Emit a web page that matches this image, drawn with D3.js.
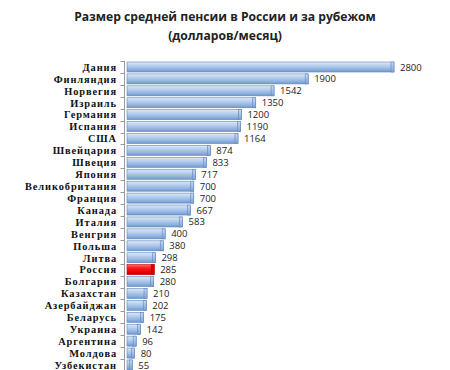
<!DOCTYPE html>
<html><head><meta charset="utf-8">
<script src="https://cdn.jsdelivr.net/npm/d3@7/dist/d3.min.js"></script>
<style>body{margin:0;background:#fff}svg{display:block}</style>
</head><body>
<svg id="c" width="450" height="370"></svg>
<script>
const categories = ["Дания","Финляндия","Норвегия","Израиль","Германия","Испания","США","Швейцария","Швеция","Япония","Великобритания","Франция","Канада","Италия","Венгрия","Польша","Литва","Россия","Болгария","Казахстан","Азербайджан","Беларусь","Украина","Аргентина","Молдова","Узбекистан"];
const values = [2800,1900,1542,1350,1200,1190,1164,874,833,717,700,700,667,583,400,380,298,285,280,210,202,175,142,96,80,55];
const highlight = ["Россия"];
const titleLines = ["Размер средней пенсии в России и за рубежом","(долларов/месяц)"];

const svg = d3.select("#c");
const step = 11.92, top0 = 67 - step/2;
const y = d3.scaleBand().domain(categories).range([top0, top0 + step*categories.length]).paddingInner(0.16).paddingOuter(0.08);
const x = d3.scaleLinear().domain([0, 2800]).range([127, 394]);

const defs = svg.append("defs");
function grad(id, stops){
  const g = defs.append("linearGradient").attr("id", id).attr("x1",0).attr("y1",0).attr("x2",0).attr("y2",1);
  stops.forEach(([o,c])=>g.append("stop").attr("offset",o).attr("stop-color",c));
}
grad("gb", [[0,"#dce8f6"],[0.35,"#b9d0ee"],[0.75,"#8eb2e0"],[1,"#6f97cc"]]);
grad("gr", [[0,"#ff6a6a"],[0.35,"#ff1a1a"],[0.8,"#e00000"],[1,"#b00000"]]);
grad("gc", [[0,"#c8daf2"],[1,"#7fa3d4"]]);

// title
const tsel = svg.selectAll("text.title").data(titleLines).join("text")
  .attr("class","title").attr("x",225).attr("y",(d,i)=>21+i*18.5)
  .attr("text-anchor","middle").attr("font-family","'Open Sans', 'Liberation Sans', sans-serif")
  .attr("font-weight","bold").attr("font-size",12).attr("fill","#222").text(d=>d);
const tw = tsel.node().getComputedTextLength();
tsel.attr("font-size", 12*302/tw);

// axis
const yAxis = d3.axisLeft(y).tickSize(0).tickFormat("");
const ax = svg.append("g").attr("transform","translate(124.5,0)").call(yAxis);
ax.select(".domain").attr("stroke","#999").attr("d",`M0,${top0}V370`);
const bounds = d3.range(categories.length+1).map(i=>top0+i*step);
ax.selectAll("line.tk").data(bounds).join("line").attr("class","tk")
  .attr("x1",-4).attr("x2",0).attr("y1",d=>Math.round(d)+0.5).attr("y2",d=>Math.round(d)+0.5).attr("stroke","#999");

// bars
const bh = y.bandwidth();
const g = svg.append("g");
g.selectAll("rect.bar").data(categories).join("rect").attr("class","bar")
  .attr("x", x(0)).attr("y", d=>y(d)).attr("width", (d,i)=>x(values[i])-x(0)).attr("height", bh)
  .attr("fill", d=>highlight.includes(d)?"url(#gr)":"url(#gb)")
  .attr("stroke", d=>highlight.includes(d)?"#c00000":"#5f87bd").attr("stroke-width",0.6);
// end caps
g.selectAll("rect.cap").data(categories).join("rect").attr("class","cap")
  .attr("x", (d,i)=>x(values[i])-3).attr("y", d=>y(d)).attr("width",3).attr("height", bh)
  .attr("fill", d=>highlight.includes(d)?"#d80000":"url(#gc)")
  .attr("stroke", d=>highlight.includes(d)?"#c00000":"#5f87bd").attr("stroke-width",0.6);

// value labels
g.selectAll("text.val").data(categories).join("text").attr("class","val")
  .attr("x",(d,i)=>x(values[i])+6).attr("y",d=>y(d)+bh/2+3.5)
  .attr("font-family","'Open Sans','Liberation Sans',sans-serif").attr("font-size",9.5).attr("fill","#222")
  .text((d,i)=>values[i]);

// category labels
svg.append("g").selectAll("text").data(categories).join("text")
  .attr("x",117).attr("y",d=>y(d)+bh/2+3.8).attr("text-anchor","end")
  .attr("font-family","'Liberation Serif','DejaVu Serif',serif").attr("font-weight","bold")
  .attr("font-size",10.4).attr("letter-spacing",0.9).attr("fill","#111").text(d=>d);
</script>
</body></html>
